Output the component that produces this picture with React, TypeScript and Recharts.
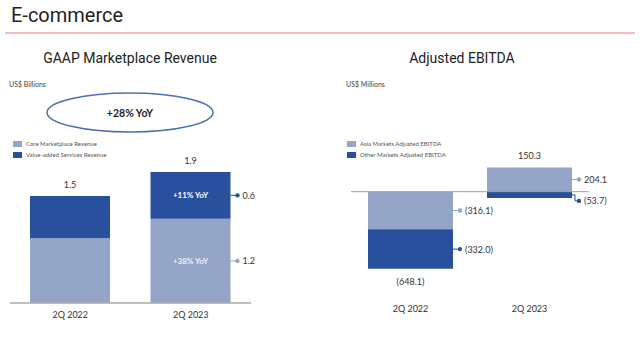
import { BarChart, Bar, XAxis, YAxis, LabelList, ReferenceLine } from 'recharts';

// GAAP marketplace revenue, US$ billions
const quarters = ['2Q 2022', '2Q 2023'];
const coreRevenue = [0.94, 1.22];
const vasRevenue = [0.61, 0.68];
const revenueTotals = ['1.5', '1.9'];
const coreCallouts = [null, '1.2'];
const vasCallouts = [null, '0.6'];
const coreYoY = [null, '+38% YoY'];
const vasYoY = [null, '+11% YoY'];

// Adjusted EBITDA, US$ millions
const asiaEbitda = [-316.1, 204.1];
const otherEbitda = [-332.0, -53.7];
const ebitdaTotals = [-648.1, 150.3];

const LIGHT = '#94a5c7';
const DARK = '#28509c';
const TEXT = '#333';
const FONT = 'Lato, "Open Sans", sans-serif';

const fmt = (v: number) => (v < 0 ? `(${Math.abs(v).toFixed(1)})` : v.toFixed(1));

const revenueData = quarters.map((q, i) => ({
  name: q,
  core: coreRevenue[i],
  vas: vasRevenue[i],
  total: revenueTotals[i],
  coreCallout: coreCallouts[i],
  vasCallout: vasCallouts[i],
  coreYoY: coreYoY[i],
  vasYoY: vasYoY[i],
}));

const ebitdaData = quarters.map((q, i) => ({
  name: q,
  asia: asiaEbitda[i],
  other: otherEbitda[i],
  asiaCallout: fmt(asiaEbitda[i]),
  otherCallout: fmt(otherEbitda[i]),
  totalAbove: ebitdaTotals[i] > 0 ? fmt(ebitdaTotals[i]) : null,
  totalBelow: ebitdaTotals[i] < 0 ? fmt(ebitdaTotals[i]) : null,
}));

function box(props: any) {
  const vb = props.viewBox ?? props;
  const { x, y, width, height } = vb;
  return {
    x,
    width,
    top: Math.min(y, y + height),
    bottom: Math.max(y, y + height),
    mid: y + height / 2,
    h: Math.abs(height),
  };
}

// dot + line callout to the right of a bar segment
function callout(color: string) {
  return (props: any) => {
    if (props.value == null) return null;
    const b = box(props);
    const right = b.x + b.width;
    const elbow = b.h < 10;
    const ty = elbow ? b.mid + 6 : b.mid;
    return (
      <g>
        {elbow ? (
          <path d={`M${right},${b.mid}H${right + 3}V${ty}H${right + 7}`} stroke={color} fill="none" strokeWidth={1} />
        ) : (
          <line x1={right} y1={b.mid} x2={right + 7} y2={b.mid} stroke={color} strokeWidth={1} />
        )}
        <circle cx={right + 7} cy={ty} r={2.2} fill={color} />
        <text x={right + 12} y={ty} dominantBaseline="central" fontSize={9} fill={TEXT} fontFamily={FONT}>
          {props.value}
        </text>
      </g>
    );
  };
}

function inside(color: string) {
  return (props: any) => {
    if (props.value == null) return null;
    const b = box(props);
    return (
      <text x={b.x + b.width / 2} y={b.mid} textAnchor="middle" dominantBaseline="central" fontSize={8} fontWeight={700} fill={color} fontFamily={FONT}>
        {props.value}
      </text>
    );
  };
}

function totalAbove(props: any) {
  if (props.value == null) return null;
  const b = box(props);
  return (
    <text x={b.x + b.width / 2} y={b.top - 8} textAnchor="middle" fontSize={9} fill={TEXT} fontFamily={FONT}>
      {props.value}
    </text>
  );
}

function totalBelow(props: any) {
  if (props.value == null) return null;
  const b = box(props);
  return (
    <text x={b.x + b.width / 2} y={b.bottom + 16} textAnchor="middle" fontSize={9} fill={TEXT} fontFamily={FONT}>
      {props.value}
    </text>
  );
}

function LegendItem({ x, y, color, label }: { x: number; y: number; color: string; label: string }) {
  return (
    <div style={{ position: 'absolute', left: x, top: y, display: 'flex', alignItems: 'center', fontSize: 6, color: '#555', fontFamily: FONT, whiteSpace: 'nowrap' }}>
      <span style={{ display: 'inline-block', width: 9, height: 6, background: color, marginRight: 4 }} />
      {label}
    </div>
  );
}

export default function App() {
  return (
    <div style={{ position: 'absolute', left: 0, top: 0, width: 640, height: 352, background: '#fff', overflow: 'hidden' }}>
      <div style={{ position: 'absolute', left: 11, top: 3, fontSize: 20, fontFamily: 'Roboto, sans-serif', color: '#222' }}>E-commerce</div>
      <div style={{ position: 'absolute', left: 5, top: 32, width: 630, height: 1.5, background: '#f4bcbc' }} />

      <div style={{ position: 'absolute', left: 0, width: 260, top: 50, textAlign: 'center', fontSize: 14, fontFamily: 'Roboto, sans-serif', color: '#222' }}>
        GAAP Marketplace Revenue
      </div>
      <div style={{ position: 'absolute', left: 392, width: 140, top: 50, textAlign: 'center', fontSize: 14, fontFamily: 'Roboto, sans-serif', color: '#222' }}>
        Adjusted EBITDA
      </div>
      <div style={{ position: 'absolute', left: 9, top: 80, fontSize: 7, fontFamily: FONT, color: '#444' }}>US$ Billions</div>
      <div style={{ position: 'absolute', left: 346, top: 80, fontSize: 7, fontFamily: FONT, color: '#444' }}>US$ Millions</div>

      <svg style={{ position: 'absolute', left: 0, top: 0 }} width={260} height={140}>
        <ellipse cx={130} cy={112.5} rx={83} ry={19.5} fill="#fff" stroke="#4a70b8" strokeWidth={1.5} />
        <text x={130} y={113} textAnchor="middle" dominantBaseline="central" fontSize={10.5} fontWeight={700} fill="#222" fontFamily={FONT}>
          +28% YoY
        </text>
      </svg>

      <LegendItem x={13} y={140} color={LIGHT} label="Core Marketplace Revenue" />
      <LegendItem x={13} y={151} color={DARK} label="Value-added Services Revenue" />
      <LegendItem x={347} y={140} color={LIGHT} label="Asia Markets Adjusted EBITDA" />
      <LegendItem x={347} y={151} color={DARK} label="Other Markets Adjusted EBITDA" />

      <div style={{ position: 'absolute', left: 0, top: 140 }}>
        <BarChart width={320} height={200} data={revenueData} margin={{ top: 25, right: 69, bottom: 0, left: 10 }}>
          <XAxis
            dataKey="name"
            height={37}
            tickLine={false}
            tickMargin={3}
            axisLine={{ stroke: '#a8a8a8', strokeWidth: 1.5 }}
            tick={{ fontSize: 9, fill: TEXT, fontFamily: FONT }}
          />
          <YAxis hide domain={[0, 2]} />
          <Bar dataKey="core" stackId="a" fill={LIGHT} barSize={80} isAnimationActive={false}>
            <LabelList dataKey="coreYoY" content={inside('#eef1f8')} />
            <LabelList dataKey="coreCallout" content={callout(LIGHT)} />
          </Bar>
          <Bar dataKey="vas" stackId="a" fill={DARK} barSize={80} isAnimationActive={false}>
            <LabelList dataKey="vasYoY" content={inside('#fff')} />
            <LabelList dataKey="vasCallout" content={callout(DARK)} />
            <LabelList dataKey="total" content={totalAbove} />
          </Bar>
        </BarChart>
      </div>

      <div style={{ position: 'absolute', left: 320, top: 140 }}>
        <BarChart width={320} height={200} data={ebitdaData} stackOffset="sign" margin={{ top: 10, right: 51, bottom: 0, left: 31 }}>
          <XAxis
            dataKey="name"
            height={59}
            tickLine={false}
            tickMargin={19}
            axisLine={false}
            tick={{ fontSize: 9, fill: TEXT, fontFamily: FONT }}
          />
          <YAxis hide domain={[-750, 350]} />
          <ReferenceLine y={0} stroke="#a0a0a0" />
          <Bar dataKey="asia" stackId="e" fill={LIGHT} barSize={85} isAnimationActive={false}>
            <LabelList dataKey="asiaCallout" content={callout(LIGHT)} />
            <LabelList dataKey="totalAbove" content={totalAbove} />
          </Bar>
          <Bar dataKey="other" stackId="e" fill={DARK} barSize={85} isAnimationActive={false}>
            <LabelList dataKey="otherCallout" content={callout(DARK)} />
            <LabelList dataKey="totalBelow" content={totalBelow} />
          </Bar>
        </BarChart>
      </div>
    </div>
  );
}
